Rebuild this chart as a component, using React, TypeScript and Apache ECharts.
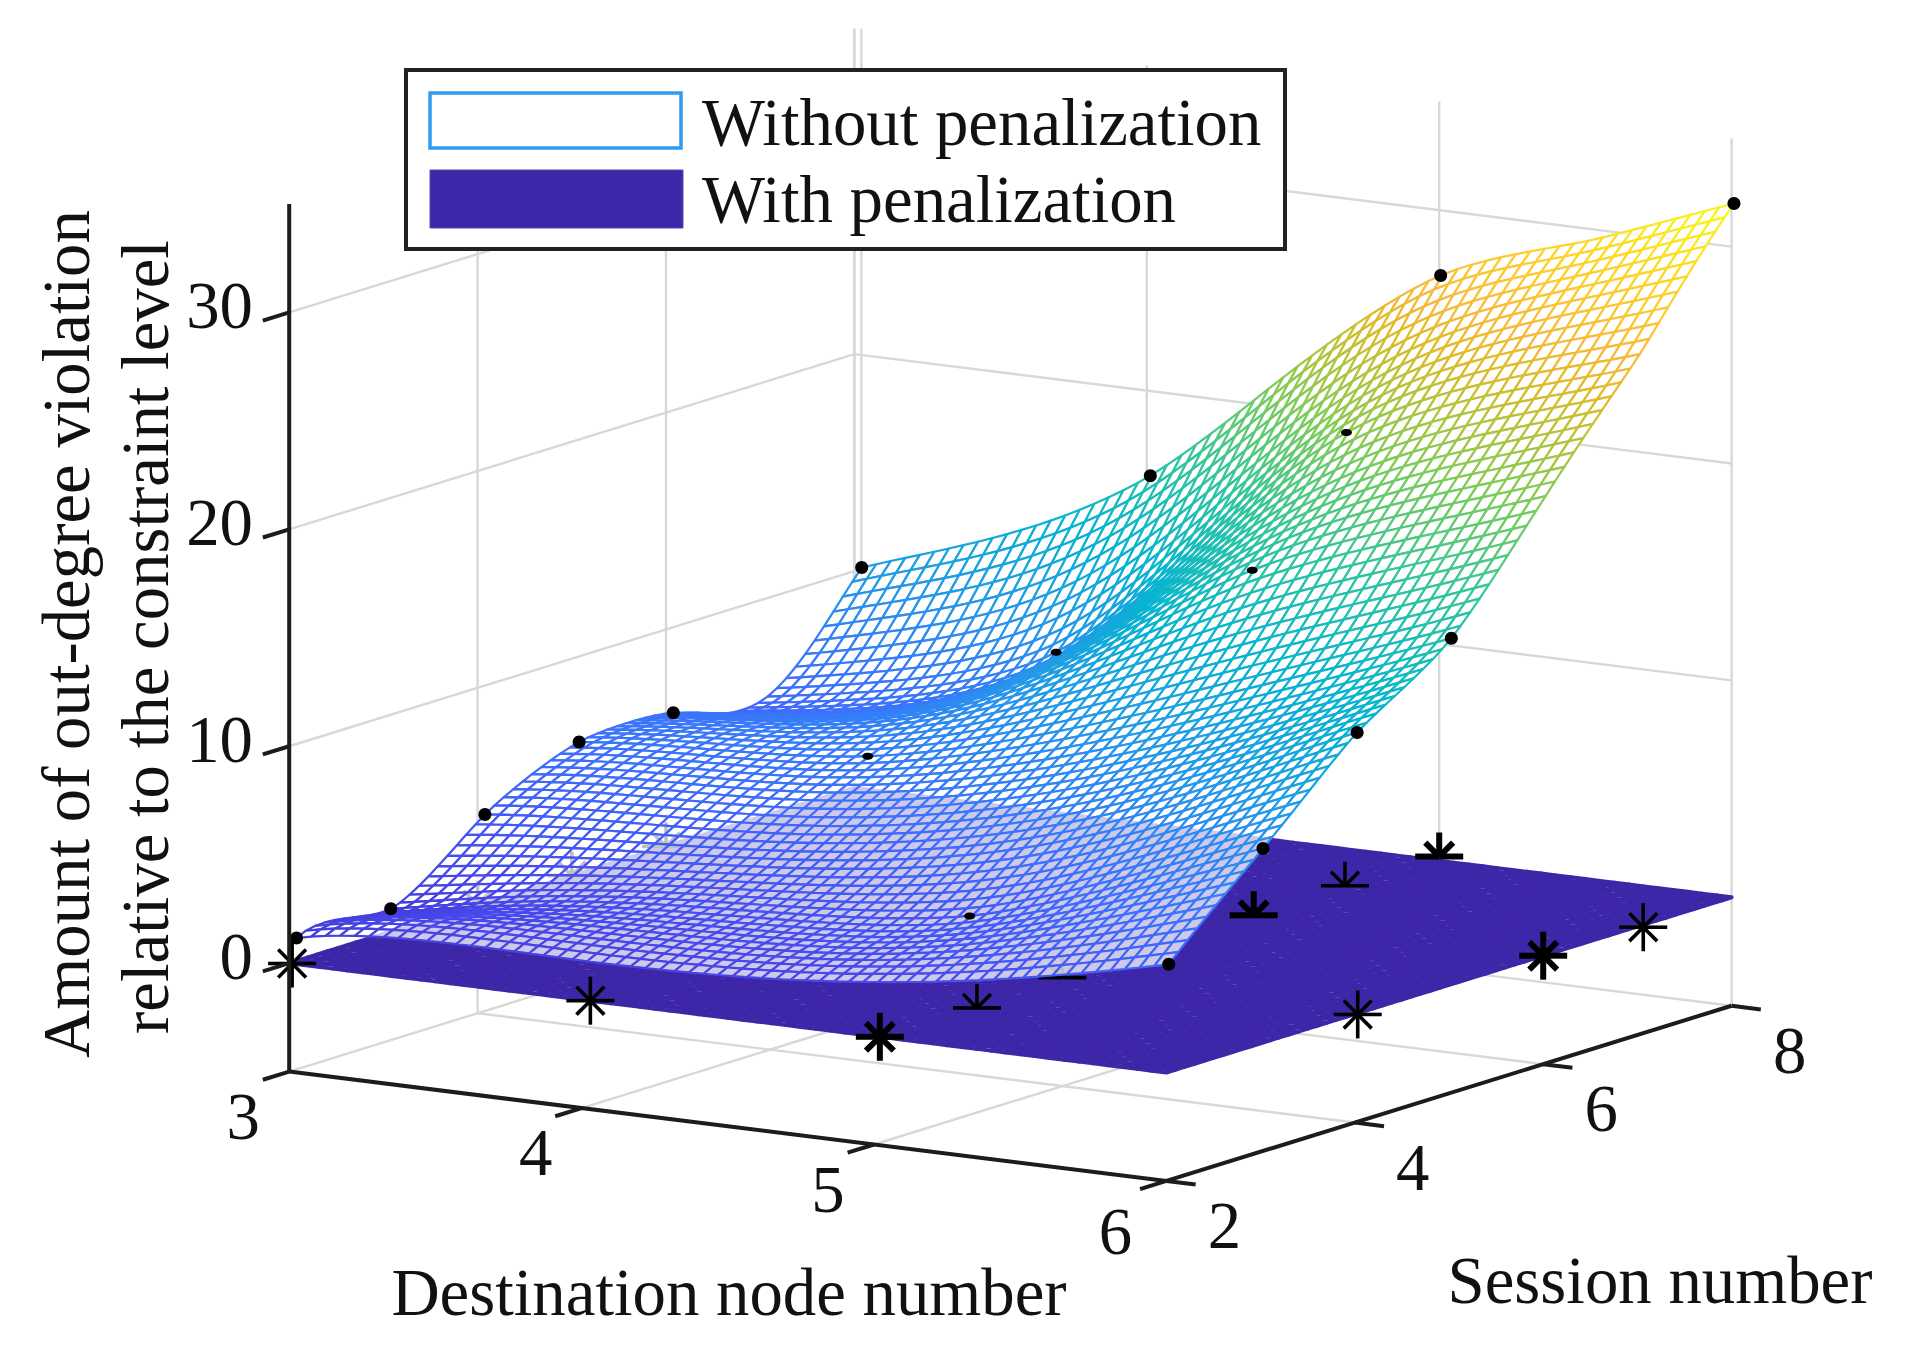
import React, { useEffect, useRef } from "react";
import * as echarts from "echarts";

// ---- values ----
// node positions (they sit a hair right of the integer ticks)
const destinationNodes = [3.025, 4.012, 5.005, 6.008];
const sessions = [2, 3, 4, 5, 6, 7, 8];
// black dots: one row per destination node, one column per session
const withoutDest3 = [1.2, 1.2, 4.2, 6.2, 6.2, 5.6, 10.2];
const withoutDest4 = [1.8, 3.0, 5.0, 7.2, 8.5, 9.3, 16.1];
const withoutDest5 = [2.5, 4.2, 7.5, 11.0, 16.1, 21.1, 27.0];
const withoutDest6 = [5.0, 9.0, 13.0, 16.0, 21.2, 26.4, 32.0];
const withoutPenalization = [withoutDest3, withoutDest4, withoutDest5, withoutDest6];
// further points read along the top silhouette of the mesh
const silhouetteDest = [4.5, 5.5];
const silhouetteSess = [8, 8];
const silhouetteValue = [21.8, 29.4];
// asterisks of the penalized result
const starDest = [3.01, 4.03, 5.02, 6.01, 6.0, 6.02, 5.03, 5.0, 5.01, 5.0, 5.0, 3.0, 3.0, 3.0];
const starSess = [2, 2, 2, 4, 6, 7, 3, 4, 6, 7, 8, 4, 5, 6];
const starValue = [0, 0, 0, 0, 0, 0, 0, 0, 0.2, 0.2, 0.2, 0, 0, 0];
const penalizedLevel = 0;
const destinationTicks = [3, 4, 5, 6];
const sessionTicks = [2, 4, 6, 8];
const valueTicks = [0, 10, 20, 30];
const legendLabels = ["Without penalization", "With penalization"];
const xTitle = "Destination node number";
const yTitle = "Session number";
const zTitleLines = ["Amount of out-degree violation", "relative to the constraint level"];

const X0 = 3, X1 = 6, Y0 = 2, Y1 = 8, Z0 = -5, Z1 = 35, CMIN = -1.5, CMAX = 32;
const MESH_N = 60;
const FONT = '66.8px "Liberation Serif"';

// 3-D view: orthographic projection onto the page
function project(x: number, y: number, z: number): [number, number] {
  return [
    289.2 + (x - X0) * 292.4 + (y - Y0) * 94.2,
    1071.6 + (x - X0) * 36.45 - (y - Y0) * 29.2 - (z - Z0) * 21.69,
  ];
}

// biharmonic (griddata "v4") surface through the read dots
function green(d: number) {
  return d > 0 ? d * d * (Math.log(d) - 1) : 0;
}
function buildSurface() {
  const pts: number[][] = [];
  destinationNodes.forEach((x, i) => sessions.forEach((y, j) => pts.push([x, y, withoutPenalization[i][j]])));
  silhouetteDest.forEach((x, i) => pts.push([x, silhouetteSess[i], silhouetteValue[i]]));
  const n = pts.length;
  const A = pts.map((p) => [...pts.map((q) => green(Math.hypot(p[0] - q[0], p[1] - q[1]))), p[2]]);
  for (let c = 0; c < n; c++) {
    let best = c;
    for (let r = c + 1; r < n; r++) if (Math.abs(A[r][c]) > Math.abs(A[best][c])) best = r;
    [A[c], A[best]] = [A[best], A[c]];
    for (let r = 0; r < n; r++) {
      if (r === c) continue;
      const f = A[r][c] / A[c][c];
      for (let k = c; k <= n; k++) A[r][k] -= f * A[c][k];
    }
  }
  const w = A.map((row, i) => row[n] / row[i]);
  return (x: number, y: number) => pts.reduce((s, p, i) => s + w[i] * green(Math.hypot(x - p[0], y - p[1])), 0);
}

const PARULA = [
  [0, 0.2422, 0.1504, 0.6603], [0.111, 0.2803, 0.2782, 0.9221], [0.222, 0.244, 0.4358, 0.9988],
  [0.333, 0.154, 0.5902, 0.9218], [0.444, 0.0297, 0.7082, 0.8163], [0.556, 0.1938, 0.7758, 0.6251],
  [0.667, 0.5044, 0.7993, 0.348], [0.778, 0.8634, 0.7406, 0.1596], [0.825, 0.9728, 0.7298, 0.2394],
  [0.889, 0.9892, 0.8136, 0.1885], [1, 0.9769, 0.9839, 0.0805],
];
function parula(t: number) {
  const v = Math.max(0, Math.min(1, t));
  let i = 0;
  while (i < PARULA.length - 2 && v > PARULA[i + 1][0]) i++;
  const a = PARULA[i], b = PARULA[i + 1], f = (v - a[0]) / (b[0] - a[0]);
  const c = [1, 2, 3].map((k) => Math.round(255 * (a[k] + (b[k] - a[k]) * f)));
  return `rgb(${c[0]},${c[1]},${c[2]})`;
}

type Cell = { pts: number[][]; color: string };
function buildMesh(f: (x: number, y: number) => number, color: (z: number) => string, xa: number, xb: number): Cell[] {
  const cells: Cell[] = [];
  const gx = (i: number) => xa + ((xb - xa) * i) / MESH_N;
  const gy = (j: number) => Y0 + ((Y1 - Y0) * j) / MESH_N;
  for (let i = 0; i < MESH_N; i++) {
    for (let j = MESH_N - 1; j >= 0; j--) {
      const corners = [[i, j], [i + 1, j], [i + 1, j + 1], [i, j + 1]].map(([a, b]) => {
        const x = gx(a), y = gy(b);
        return [x, y, f(x, y)];
      });
      const mean = corners.reduce((s, c) => s + c[2], 0) / 4;
      cells.push({ pts: corners.map((c) => project(c[0], c[1], c[2])), color: color(mean) });
    }
  }
  return cells;
}

type Seg = { a: number[]; b: number[] };
function gridSegments(): Seg[] {
  const s: Seg[] = [];
  const add = (a: number[], b: number[]) => s.push({ a: project(a[0], a[1], a[2]), b: project(b[0], b[1], b[2]) });
  destinationTicks.forEach((x) => add([x, Y0, Z0], [x, Y1, Z0]));
  sessionTicks.forEach((y) => add([X0, y, Z0], [X1, y, Z0]));
  valueTicks.forEach((z) => {
    add([X0, Y0, z], [X0, Y1, z]);
    add([X0, Y1, z], [X1, Y1, z]);
  });
  sessionTicks.forEach((y) => add([X0, y, Z0], [X0, y, Z1]));
  destinationTicks.forEach((x) => add([x, Y1, Z0], [x, Y1, Z1]));
  const back = project(X0, Y1, Z0), backTop = project(X0, Y1, Z1);
  s.push({ a: [back[0] + 7, back[1]], b: [backTop[0] + 7, backTop[1]] });
  return s;
}

function axisSegments(): Seg[] {
  const s: Seg[] = [];
  const add = (a: number[], b: number[]) => s.push({ a: project(a[0], a[1], a[2]), b: project(b[0], b[1], b[2]) });
  add([X0, Y0, Z0], [X0, Y0, Z1]);
  add([X0, Y0, Z0], [X1, Y0, Z0]);
  add([X1, Y0, Z0], [X1, Y1, Z0]);
  valueTicks.forEach((z) => add([X0, Y0, z], [X0, Y0 - 0.28, z]));
  destinationTicks.forEach((x) => add([x, Y0, Z0], [x, Y0 - 0.28, Z0]));
  sessionTicks.forEach((y) => add([X1, y, Z0], [X1 + 0.1, y, Z0]));
  return s;
}

function meshSeries(cells: Cell[], fill: string, lineWidth: number, z: number) {
  return {
    type: "custom",
    coordinateSystem: "none",
    silent: true,
    z,
    progressive: 0,
    animation: false,
    data: cells.map((_, i) => [i]),
    renderItem: (p: any) => {
      const c = cells[p.dataIndex];
      return {
        type: "polygon",
        shape: { points: c.pts },
        style: { fill, stroke: c.color, lineWidth, lineJoin: "round" },
      };
    },
  };
}

function segSeries(segs: Seg[], stroke: string, lineWidth: number, z: number) {
  return {
    type: "custom",
    coordinateSystem: "none",
    silent: true,
    z,
    progressive: 0,
    data: segs.map((_, i) => [i]),
    renderItem: (p: any) => {
      const s = segs[p.dataIndex];
      return {
        type: "line",
        shape: { x1: s.a[0], y1: s.a[1], x2: s.b[0], y2: s.b[1] },
        style: { stroke, lineWidth },
      };
    },
  };
}

function starElement(i: number) {
  const x = starDest[i], y = starSess[i];
  const [cx, cy] = project(x, y, starValue[i]);
  const full = y === Y0 || Math.round(x) === X1;
  const rx = Math.round(x);
  const bold = (rx === 5 && (y === 2 || y === 6 || y === 8)) || (rx === 6 && y === 6);
  const arm = 24;
  const rays = full ? [0, 45, 90, 135, 180, 225, 270, 315] : [0, 180, 225, 270, 315];
  return {
    type: "group",
    children: rays.map((deg) => ({
      type: "line",
      shape: {
        x1: cx,
        y1: cy,
        x2: cx + arm * Math.cos((deg * Math.PI) / 180) * (deg % 90 ? 0.82 : 1),
        y2: cy + arm * Math.sin((deg * Math.PI) / 180) * (deg % 90 ? 0.82 : 1),
      },
      style: { stroke: "#000", lineWidth: bold ? 6 : 3.6 },
    })),
  };
}

function buildOption() {
  const surface = buildSurface();
  const meshCells = buildMesh(surface, (z) => parula((z - CMIN) / (CMAX - CMIN)), destinationNodes[0], destinationNodes[3]);
  const planeCells = buildMesh(() => penalizedLevel, () => "#3e26a8", X0, X1);
  const dots: { x: number; y: number; z: number; n: number }[] = [];
  destinationNodes.forEach((x, i) =>
    sessions.forEach((y, j) => dots.push({ x, y, z: withoutPenalization[i][j], n: i + 3 }))
  );
  const visibleDots = dots.filter(
    (d) =>
      !(d.n === 4 && d.y < 5) &&
      !(d.n === 5 && (d.y === 2 || d.y === 4 || d.y === 5)) &&
      !(d.n === 6 && (d.y === 6 || d.y === 7)) &&
      !(d.n === 3 && d.y === 7) &&
      !(d.n === 4 && d.y === 6)
  );

  const graphics: any[] = [];
  const text = (t: string, x: number, y: number, align: string, extra: any = {}) =>
    graphics.push({
      type: "text",
      x,
      y,
      z: 50,
      silent: true,
      style: { text: t, font: FONT, fill: "#111", textAlign: align, textVerticalAlign: "middle" },
      ...extra,
    });
  valueTicks.forEach((v) => text(String(v), 253, project(X0, Y0, v)[1] - 7, "right"));
  destinationTicks.forEach((v) => {
    const p = project(v, Y0, Z0);
    text(String(v), p[0] - 46 - (v === 6 ? 5 : 0), p[1] + 44 + (v === 6 ? 6 : 0), "center");
  });
  sessionTicks.forEach((v) => {
    const p = project(X1, v, Z0);
    text(String(v), p[0] + 58, p[1] + 44, "center");
  });
  text(xTitle, 729, 1292, "center");
  text(yTitle, 1660, 1280, "center");
  text(zTitleLines[0], 66, 634, "center", { rotation: Math.PI / 2 });
  text(zTitleLines[1], 145, 637, "center", { rotation: Math.PI / 2 });

  graphics.push({
    type: "rect",
    z: 40,
    silent: true,
    shape: { x: 406, y: 70, width: 879, height: 179 },
    style: { fill: "#fff", stroke: "#222", lineWidth: 4 },
  });
  graphics.push({
    type: "rect",
    z: 41,
    silent: true,
    shape: { x: 430, y: 93, width: 251, height: 55 },
    style: { fill: "#fff", stroke: "#2f9bf2", lineWidth: 3.5 },
  });
  graphics.push({
    type: "rect",
    z: 41,
    silent: true,
    shape: { x: 430, y: 170, width: 253, height: 58 },
    style: { fill: "#3e26a8", stroke: "#5a46b8", lineWidth: 1 },
  });
  text(legendLabels[0], 702, 122, "left");
  text(legendLabels[1], 702, 199, "left");

  return {
    animation: false,
    backgroundColor: "#fff",
    graphic: { elements: graphics },
    series: [
      segSeries(gridSegments(), "#d8d8d8", 2.4, 1),
      meshSeries(planeCells, "#ffffff", 4, 2),
      {
        type: "custom",
        coordinateSystem: "none",
        silent: true,
        z: 3,
        progressive: 0,
        data: starDest.map((_, i) => [i]),
        renderItem: (p: any) => starElement(p.dataIndex),
      },
      meshSeries(meshCells, "rgba(255,255,255,0.75)", 2.2, 4),
      {
        type: "custom",
        coordinateSystem: "none",
        silent: true,
        z: 5,
        progressive: 0,
        data: visibleDots.map((_, i) => [i]),
        renderItem: (p: any) => {
          const d = visibleDots[p.dataIndex];
          const [cx, cy] = project(d.x, d.y, d.z);
          const edge = d.n === X0 || d.y === Y1 || d.n === X1 || d.y === Y0;
          return {
            type: "ellipse",
            shape: { cx, cy, rx: edge ? 6.5 : 5.5, ry: edge ? 6.5 : 3.5 },
            style: { fill: "#000" },
          };
        },
      },
      segSeries(axisSegments(), "#1c1c1c", 4, 6),
    ],
  };
}

export default function App() {
  const ref = useRef<HTMLDivElement>(null);
  useEffect(() => {
    const chart = echarts.init(ref.current!, undefined, { renderer: "svg" });
    chart.setOption(buildOption() as any);
    return () => chart.dispose();
  }, []);
  return <div ref={ref} style={{ position: "absolute", left: 0, top: 0, width: 1905, height: 1345 }} />;
}
